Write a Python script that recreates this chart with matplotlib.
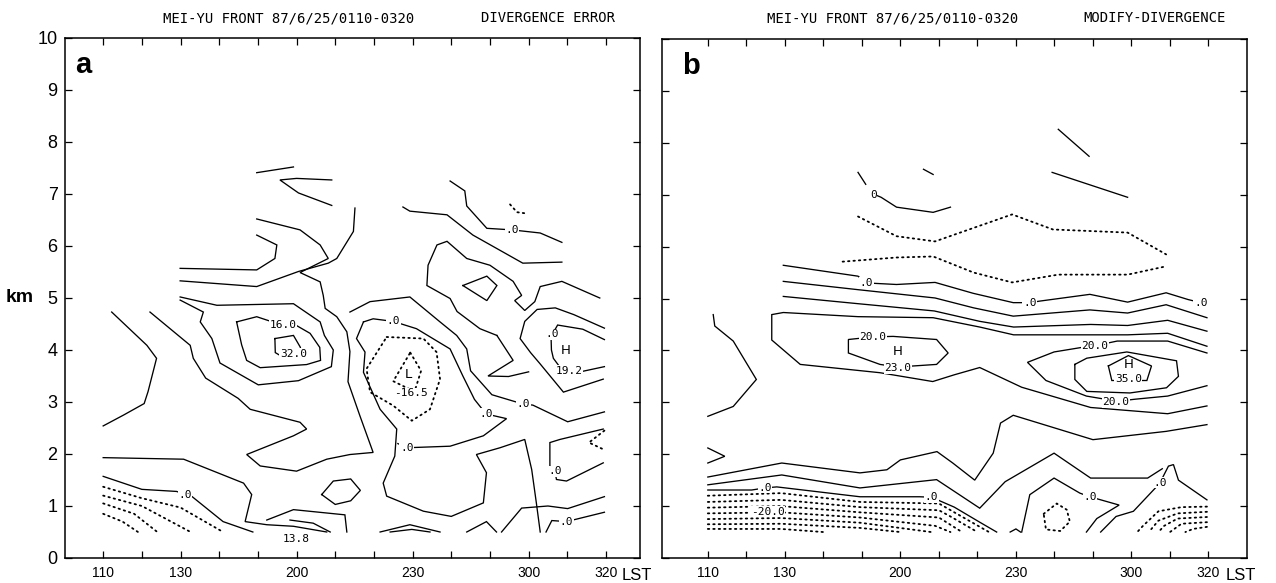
import matplotlib
matplotlib.use("Agg")
import matplotlib.pyplot as plt

# ---------------- data (x = 10-minute steps after 0110 LST, y = km) ----------------
TIME_TICK_IDX = [0, 2, 5, 8, 11, 13]
TIME_TICK_LABELS = ["110", "130", "200", "230", "300", "320"]
HEIGHT_TICKS = list(range(0, 11))

# ---- panel a : DIVERGENCE ERROR ----
A_SOLID = [
    [(3.97, 7.41), (4.92, 7.52)],
    [(5.91, 7.27), (5.0, 7.3), (4.57, 7.27), (5.05, 7.02), (5.91, 6.78)],
    [(3.97, 6.21), (4.49, 6.02), (4.44, 5.76), (3.97, 5.54), (1.99, 5.57)],
    [(6.51, 6.73), (6.47, 6.28), (6.04, 5.76), (5.82, 5.67), (5.05, 5.51), (3.97, 5.22), (1.99, 5.33)],
    [(1.21, 4.73), (2.25, 4.09), (2.33, 3.84), (2.65, 3.46), (3.49, 3.07), (3.8, 2.86), (5.09, 2.61),
     (5.26, 2.48), (4.92, 2.35), (3.71, 1.99), (4.06, 1.77), (5.0, 1.67), (5.78, 1.9), (6.38, 1.99),
     (6.98, 2.03), (6.64, 2.73), (6.33, 3.39), (6.38, 3.97), (6.3, 4.35), (6.04, 4.64), (5.74, 4.8),
     (5.69, 5.05), (5.61, 5.31), (5.09, 5.49), (5.82, 5.76), (5.61, 6.02), (5.09, 6.31), (3.97, 6.52)],
    [(1.99, 5.02), (2.94, 4.86), (4.92, 4.89), (5.61, 4.54), (5.72, 4.28), (5.95, 4.0), (5.9, 3.68),
     (5.05, 3.41), (4.01, 3.33), (3.02, 3.75), (2.81, 4.22), (2.51, 4.54), (2.59, 4.73), (1.99, 4.96)],
    [(3.45, 4.54), (3.97, 4.64), (4.66, 4.47), (5.0, 4.47), (5.35, 4.32), (5.6, 4.05), (5.62, 3.8),
     (5.26, 3.72), (4.06, 3.66), (3.71, 3.8), (3.58, 4.1), (3.45, 4.54)],
    [(4.44, 4.22), (4.92, 4.28), (5.1, 4.05), (5.06, 3.88), (4.7, 3.84), (4.45, 3.95), (4.44, 4.22)],
    [(0.0, 2.54), (0.53, 2.75), (1.06, 2.97), (1.16, 3.2), (1.38, 3.84), (1.13, 4.09), (0.22, 4.73)],
    [(0.0, 1.57), (1.0, 1.32), (1.9, 1.28), (2.12, 1.22), (2.3, 1.18), (3.1, 0.7), (3.87, 0.5)],
    [(0.0, 1.93), (2.08, 1.9), (3.63, 1.44), (3.84, 1.22), (3.67, 0.7), (4.23, 0.64), (4.92, 0.61), (5.78, 0.5)],
    [(4.23, 0.73), (4.92, 0.93), (6.25, 0.83), (6.3, 0.5)],
    [(4.83, 0.73), (5.43, 0.67), (5.87, 0.5)],
    [(5.65, 1.22), (5.95, 1.48), (6.4, 1.52), (6.65, 1.3), (6.4, 1.1), (6.0, 1.03), (5.65, 1.22)],
    # ring round the low
    [(6.73, 4.54), (6.98, 4.6), (7.5, 4.55), (8.1, 4.41), (8.97, 4.02), (9.3, 3.5), (9.6, 3.05),
     (9.9, 2.77), (10.43, 2.68), (9.83, 2.35), (8.97, 2.15), (7.85, 2.12), (7.62, 2.2)],
    [(6.73, 4.54), (6.55, 4.22), (6.77, 3.96), (6.73, 3.57), (7.16, 2.86), (7.59, 2.48), (7.54, 1.96),
     (7.24, 1.44), (7.33, 1.19), (8.28, 0.9), (9.0, 0.8), (9.83, 1.06), (9.91, 1.64), (9.65, 1.99),
     (10.26, 2.12), (10.9, 2.28), (11.08, 1.7), (11.2, 1.06), (11.3, 0.5)],
    [(6.38, 4.73), (6.9, 4.93), (7.93, 5.02), (8.71, 4.54), (9.14, 4.28), (9.4, 4.02), (9.5, 3.6),
     (10.05, 3.14), (10.86, 2.96), (11.11, 2.94), (12.01, 2.62), (12.96, 2.81)],
    # upper right
    [(10.18, 4.28), (9.74, 4.41), (9.15, 4.74), (8.97, 4.99), (8.37, 5.24), (8.4, 5.63), (8.63, 6.02),
     (8.89, 6.09), (9.4, 5.76), (10.0, 5.63), (10.6, 5.32), (10.82, 5.05), (10.64, 4.95), (10.9, 4.76),
     (11.16, 4.93), (11.3, 5.22), (11.86, 5.32), (12.84, 5.0)],
    [(9.3, 5.24), (9.92, 5.42), (10.18, 5.24), (9.92, 4.95), (9.3, 5.24)],
    [(7.75, 6.75), (7.93, 6.67), (8.89, 6.6), (9.56, 6.21), (10.85, 5.67), (11.86, 5.69)],
    [(8.97, 7.25), (9.35, 7.06), (9.4, 6.77), (9.92, 6.34), (10.57, 6.31), (11.3, 6.25), (11.86, 6.07)],
    [(10.18, 4.28), (10.6, 3.8), (9.95, 3.5), (10.48, 3.49), (11.0, 3.58)],
    # right high
    [(12.96, 4.42), (12.17, 4.68), (11.69, 4.81), (11.22, 4.78), (10.9, 4.55), (10.78, 4.22),
     (11.05, 3.95), (11.29, 3.74), (11.9, 3.19), (12.93, 3.44)],
    [(12.96, 4.2), (12.4, 4.4), (11.75, 4.48), (11.58, 4.26), (11.59, 4.0), (11.64, 3.84),
     (11.96, 3.52), (12.96, 3.68)],
    # lower right
    [(12.93, 2.48), (11.81, 2.28), (11.55, 2.22), (11.55, 1.77), (11.68, 1.67), (11.72, 1.51),
     (11.98, 1.48), (12.93, 1.83)],
    [(10.3, 0.5), (10.82, 0.96), (11.5, 1.0), (12.01, 0.95), (12.96, 1.18)],
    [(11.45, 0.5), (11.6, 0.72), (11.98, 0.7), (12.96, 0.88)],
    [(7.16, 0.5), (7.93, 0.64), (8.71, 0.5)],
    [(7.42, 0.5), (7.98, 0.55), (8.45, 0.5)],
    [(9.4, 0.5), (9.91, 0.7), (10.17, 0.5)],
]
A_DOTTED = [
    [(0.0, 1.37), (1.0, 1.15), (2.0, 0.97), (3.1, 0.5)],
    [(0.0, 1.2), (1.0, 1.0), (2.26, 0.5)],
    [(0.0, 1.05), (0.8, 0.85), (1.4, 0.5)],
    [(0.0, 0.85), (0.5, 0.7), (0.9, 0.5)],
    [(7.33, 4.25), (8.28, 4.22), (8.62, 3.96), (8.71, 3.44), (8.45, 2.86), (7.98, 2.64), (7.5, 2.93),
     (6.9, 3.19), (6.81, 3.64), (7.33, 4.25)],
    [(7.94, 3.95), (8.22, 3.6), (8.05, 3.2), (7.5, 3.4), (7.94, 3.95)],
    [(10.52, 6.8), (10.7, 6.65), (10.9, 6.63)],
    [(12.96, 2.45), (12.56, 2.22), (12.96, 2.08)],
]
A_LABELS = [
    (10.57, 6.31, ".0"), (4.66, 4.48, "16.0"), (4.92, 3.93, "32.0"), (7.5, 4.55, ".0"),
    (7.95, 3.17, "-16.5"), (9.9, 2.77, ".0"), (7.85, 2.12, ".0"), (2.12, 1.22, ".0"),
    (11.68, 1.67, ".0"), (11.98, 0.7, ".0"), (10.86, 2.96, ".0"), (12.05, 3.6, "19.2"),
    (5.0, 0.36, "13.8"), (11.62, 4.3, ".0"),
]
A_LETTERS = [(7.88, 3.52, "L"), (11.95, 4.0, "H")]

# ---- panel b : MODIFY-DIVERGENCE ----
B_SOLID = [
    [(9.1, 8.26), (9.9, 7.74)],
    [(5.6, 7.49), (5.85, 7.39)],
    [(3.9, 7.43), (4.1, 7.2)],
    [(4.34, 7.0), (4.5, 6.95), (4.9, 6.76), (5.85, 6.66), (6.3, 6.76)],
    [(8.94, 7.43), (10.9, 6.95)],
    [(1.96, 5.64), (3.9, 5.43), (4.12, 5.3), (4.9, 5.27), (5.9, 5.31), (6.89, 5.1), (7.93, 4.92),
     (8.36, 4.92), (8.62, 4.95), (9.92, 5.08), (10.9, 4.93), (11.9, 5.11), (12.47, 4.98), (12.8, 4.92)],
    [(1.96, 5.33), (3.9, 5.17), (5.9, 5.01), (6.9, 4.82), (7.93, 4.66), (9.92, 4.78), (10.9, 4.72),
     (11.9, 4.88), (12.96, 4.63)],
    [(1.96, 5.04), (3.9, 4.9), (5.88, 4.76), (7.06, 4.56), (7.94, 4.45), (9.94, 4.5), (10.9, 4.48),
     (11.94, 4.58), (12.96, 4.37)],
    [(12.96, 4.08), (11.94, 4.33), (10.9, 4.3), (9.94, 4.3), (7.94, 4.3), (7.06, 4.45), (5.85, 4.63),
     (3.9, 4.65), (1.96, 4.73), (1.66, 4.69), (1.66, 4.2), (2.4, 3.73), (4.47, 3.57), (5.84, 3.4),
     (6.4, 3.53), (7.06, 3.67), (8.15, 3.29), (9.94, 2.9), (11.94, 2.78), (12.96, 2.93)],
    [(4.29, 4.26), (4.81, 4.27), (5.94, 4.21), (6.24, 3.95), (5.94, 3.73), (4.93, 3.68), (4.47, 3.73),
     (3.65, 3.95), (3.65, 4.21), (4.29, 4.26)],
    [(12.96, 3.95), (11.94, 4.18), (10.63, 4.18), (10.05, 4.09), (9.73, 4.06), (8.99, 3.97), (8.3, 3.77),
     (8.78, 3.42), (9.83, 3.12), (10.63, 3.02), (11.1, 3.06), (11.94, 3.12), (12.96, 3.32)],
    [(9.53, 3.73), (9.84, 3.85), (10.88, 3.97), (12.17, 3.8), (12.22, 3.5), (11.91, 3.28), (10.96, 3.18),
     (9.84, 3.21), (9.53, 3.44), (9.53, 3.73)],
    [(10.4, 3.7), (10.92, 3.9), (11.52, 3.7), (11.4, 3.42), (10.49, 3.42), (10.4, 3.7)],
    [(0.14, 4.69), (0.18, 4.47), (0.66, 4.18), (1.26, 3.44), (0.66, 2.92), (0.0, 2.73)],
    [(0.0, 2.12), (0.44, 1.96), (0.0, 1.83)],
    [(0.0, 1.56), (1.92, 1.83), (3.95, 1.64), (4.65, 1.7), (5.0, 1.89), (5.95, 2.05), (6.36, 1.83),
     (6.93, 1.5), (7.41, 2.02), (7.6, 2.6), (7.93, 2.75), (10.0, 2.28), (11.9, 2.44), (12.96, 2.57)],
    [(0.0, 1.41), (1.92, 1.6), (3.95, 1.35), (5.94, 1.51), (7.06, 0.96), (7.72, 1.47), (8.99, 2.02),
     (9.94, 1.54), (11.42, 1.54), (11.8, 1.72)],
    [(0.0, 1.31), (1.14, 1.31), (1.48, 1.35), (1.79, 1.37), (3.95, 1.18), (5.5, 1.18), (5.81, 1.17),
     (6.4, 0.98), (7.06, 0.69), (7.5, 0.5)],
    [(8.15, 0.5), (8.36, 1.22), (8.99, 1.54), (9.66, 1.25), (9.92, 1.18), (10.68, 1.02), (10.1, 0.76),
     (9.83, 0.5)],
    [(10.2, 0.5), (10.6, 0.8), (11.05, 0.9), (11.66, 1.38), (11.74, 1.45), (11.96, 1.77), (12.09, 1.8),
     (12.22, 1.5), (12.96, 1.12)],
    [(7.85, 0.5), (8.0, 0.56), (8.12, 0.5)],
]
B_DOTTED = [
    [(3.9, 6.58), (4.9, 6.2), (5.9, 6.1), (7.9, 6.62), (8.96, 6.33), (10.9, 6.27), (11.9, 5.85)],
    [(3.5, 5.71), (4.9, 5.79), (5.85, 5.81), (6.9, 5.5), (7.9, 5.31), (9.1, 5.46), (10.9, 5.46), (11.9, 5.62)],
    [(0.0, 1.2), (1.9, 1.25), (3.95, 1.08), (6.0, 1.05), (6.4, 0.88), (7.3, 0.5)],
    [(0.0, 1.08), (1.9, 1.12), (3.95, 0.98), (6.0, 0.92), (6.3, 0.8), (7.0, 0.5)],
    [(0.0, 0.97), (1.9, 1.0), (3.95, 0.88), (6.0, 0.78), (6.6, 0.5)],
    [(0.0, 0.86), (1.9, 0.88), (3.95, 0.78), (5.9, 0.62), (6.3, 0.5)],
    [(0.0, 0.75), (1.9, 0.77), (3.95, 0.68), (5.8, 0.5)],
    [(0.0, 0.65), (1.9, 0.66), (3.95, 0.58), (5.0, 0.5)],
    [(0.0, 0.56), (1.9, 0.56), (3.0, 0.5)],
    [(8.72, 0.85), (9.06, 1.05), (9.32, 0.93), (9.4, 0.7), (9.15, 0.52), (8.78, 0.55), (8.72, 0.85)],
    [(12.96, 0.99), (12.3, 0.98), (11.7, 0.9), (11.3, 0.62), (11.15, 0.5)],
    [(12.96, 0.89), (12.2, 0.86), (11.7, 0.72), (11.45, 0.5)],
    [(12.96, 0.79), (12.2, 0.76), (11.85, 0.62), (11.7, 0.5)],
    [(12.96, 0.69), (12.3, 0.66), (12.0, 0.5)],
    [(12.96, 0.6), (12.6, 0.56), (12.4, 0.5)],
]
B_LABELS = [
    (4.3, 7.0, "0"), (4.12, 5.3, ".0"), (8.36, 4.92, ".0"), (12.8, 4.92, ".0"),
    (4.29, 4.26, "20.0"), (4.93, 3.66, "23.0"), (10.05, 4.09, "20.0"), (10.92, 3.44, "35.0"),
    (10.6, 3.0, "20.0"), (1.48, 1.35, ".0"), (5.81, 1.17, ".0"), (1.55, 0.89, "-20.0"),
    (9.92, 1.18, ".0"), (11.74, 1.45, ".0"),
]
B_LETTERS = [(4.92, 3.97, "H"), (10.92, 3.73, "H")]

TITLE_LEFT = "MEI-YU FRONT 87/6/25/0110-0320"
TITLE_A = "DIVERGENCE ERROR"
TITLE_B = "MODIFY-DIVERGENCE"

# ---------------- drawing ----------------
W, H = 1276, 583
fig = plt.figure(figsize=(W / 100, H / 100), dpi=100)
fig.patch.set_facecolor("white")

TICK_FONT = ["Liberation Sans Narrow", "Liberation Sans", "DejaVu Sans"]
MONO = ["DejaVu Sans Mono"]


def px_axes(left, right, top, bottom):
    return fig.add_axes([left / W, (H - bottom) / H, (right - left) / W, (bottom - top) / H])


def draw_panel(ax, solid, dotted, labels, letters, xlim):
    for line in solid:
        xs, ys = zip(*line)
        ax.plot(xs, ys, color="black", lw=0.95, solid_joinstyle="miter")
    for line in dotted:
        xs, ys = zip(*line)
        ax.plot(xs, ys, color="black", lw=1.3, linestyle=(0, (0.8, 2.2)), dash_capstyle="round")
    for x, y, t in labels:
        ax.text(x, y, t, ha="center", va="center", fontsize=8, family=MONO,
                bbox=dict(boxstyle="square,pad=0.05", fc="white", ec="none"), zorder=5)
    for x, y, t in letters:
        ax.text(x, y, t, ha="center", va="center", fontsize=9.5, family=["DejaVu Sans"], zorder=5)
    ax.set_xlim(*xlim)
    ax.set_ylim(0, 10)
    ax.set_xticks(range(0, 14))
    ax.set_xticklabels([TIME_TICK_LABELS[TIME_TICK_IDX.index(i)] if i in TIME_TICK_IDX else ""
                        for i in range(0, 14)], fontsize=10, family=TICK_FONT)
    ax.set_yticks(HEIGHT_TICKS)
    ax.tick_params(axis="both", direction="in", length=5, width=0.9, top=True, right=True,
                   color="black", pad=6)
    for s in ax.spines.values():
        s.set_linewidth(1.1)
        s.set_color("black")


ax_a = px_axes(64.5, 640, 38, 558)
draw_panel(ax_a, A_SOLID, A_DOTTED, A_LABELS, A_LETTERS, (-1.0, 13.88))
ax_a.set_yticklabels([str(v) for v in HEIGHT_TICKS], fontsize=13, family=TICK_FONT)
ax_a.tick_params(axis="y", pad=5)

ax_b = px_axes(662, 1247, 39, 558)
draw_panel(ax_b, B_SOLID, B_DOTTED, B_LABELS, B_LETTERS, (-1.19, 14.0))
ax_b.set_yticklabels([])

# panel letters
ax_a.text(0.018, 0.975, "a", transform=ax_a.transAxes, ha="left", va="top", fontsize=21,
          fontweight="bold", family=["Liberation Sans", "DejaVu Sans"])
ax_b.text(0.035, 0.975, "b", transform=ax_b.transAxes, ha="left", va="top", fontsize=21,
          fontweight="bold", family=["Liberation Sans", "DejaVu Sans"])

# titles
fig.text(289 / W, 1 - 18 / H, TITLE_LEFT, ha="center", va="center", fontsize=10, family=MONO)
fig.text(548 / W, 1 - 18 / H, TITLE_A, ha="center", va="center", fontsize=10, family=MONO)
fig.text(893 / W, 1 - 18 / H, TITLE_LEFT, ha="center", va="center", fontsize=10, family=MONO)
fig.text(1155 / W, 1 - 18 / H, TITLE_B, ha="center", va="center", fontsize=10, family=MONO)

# axis unit texts
fig.text(6 / W, 1 - 298 / H, "km", ha="left", va="center", fontsize=14, fontweight="bold",
         family=["Liberation Sans", "DejaVu Sans"])
fig.text(622 / W, 1 - 576 / H, "LST", ha="left", va="center", fontsize=12, family=TICK_FONT)
fig.text(1226 / W, 1 - 576 / H, "LST", ha="left", va="center", fontsize=12, family=TICK_FONT)

fig.savefig("out.png", dpi=100, facecolor="white")
